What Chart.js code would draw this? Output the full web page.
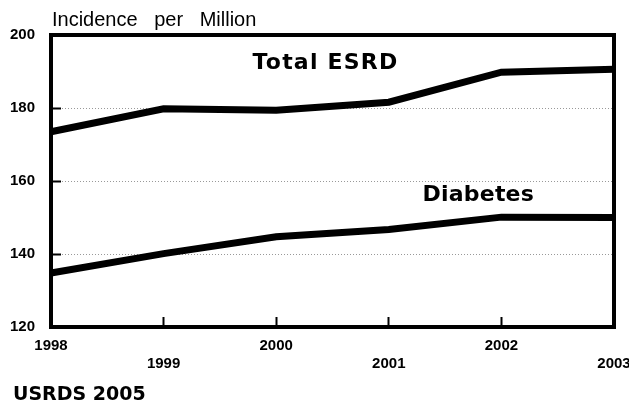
<!DOCTYPE html>
<html>
<head>
<meta charset="utf-8">
<script src="https://cdn.jsdelivr.net/npm/chart.js@4/dist/chart.umd.min.js"></script>
<style>
  html, body { margin: 0; padding: 0; background: #fff; }
  #wrap { width: 629px; height: 404px; }
</style>
</head>
<body>
<div id="wrap"><canvas id="esrd-chart"></canvas></div>
<script>
// incidence chart

const years = ['1998', '1999', '2000', '2001', '2002', '2003'];
const totalEsrd = [173.5, 179.8, 179.4, 181.6, 189.8, 190.6];
const diabetes = [134.8, 140.1, 144.7, 146.7, 150.1, 150.0];
const yTicks = [120, 140, 160, 180, 200];

const tickFont = { family: "'Liberation Sans', Arial, sans-serif", size: 15, weight: 'bold' };

// titles, series names and the box round the plot
const textMarks = {
    id: 'textMarks',
    afterDraw(chart) {
        const { ctx, chartArea: a, scales: { x, y } } = chart;
        ctx.save();
        ctx.strokeStyle = '#000';
        ctx.lineWidth = 4;
        ctx.strokeRect(a.left, a.top, a.right - a.left, a.bottom - a.top);

        ctx.fillStyle = '#000';
        ctx.textBaseline = 'alphabetic';
        ctx.textAlign = 'left';

        ctx.font = "20px 'Liberation Sans', Arial, sans-serif";
        if ('wordSpacing' in ctx) ctx.wordSpacing = '11px';
        ctx.fillText('Incidence per Million', 52, 26);
        if ('wordSpacing' in ctx) ctx.wordSpacing = '0px';

        ctx.font = "bold 22px 'DejaVu Sans', sans-serif";
        if ('letterSpacing' in ctx) ctx.letterSpacing = '1.2px';
        ctx.fillText('Total ESRD', x.getPixelForValue(1.79), y.getPixelForValue(190.8));
        if ('letterSpacing' in ctx) ctx.letterSpacing = '0.2px';
        ctx.fillText('Diabetes', x.getPixelForValue(3.3), y.getPixelForValue(154.4));
        if ('letterSpacing' in ctx) ctx.letterSpacing = '0px';

        ctx.font = "bold 19px 'DejaVu Sans', sans-serif";
        ctx.fillText('USRDS 2005', 13, 400);
        ctx.restore();
    }
};

const data = {
    labels: years,
    datasets: [{
        label: 'Total ESRD',
        data: totalEsrd,
        borderColor: '#000',
        borderWidth: 7,
        pointRadius: 0,
        tension: 0
    }, {
        label: 'Diabetes',
        data: diabetes,
        borderColor: '#000',
        borderWidth: 7,
        pointRadius: 0,
        tension: 0
    }]
};

const config = {
    type: 'line',
    data,
    plugins: [textMarks],
    options: {
        responsive: true,
        maintainAspectRatio: false,
        animation: false,
        layout: { padding: { top: 34, right: 15, left: 0, bottom: 0 } },
        plugins: {
            legend: { display: false },
            tooltip: { enabled: false }
        },
        scales: {
            x: {
                offset: false,
                afterFit(scale) {
                    scale.height = 77;
                    scale.paddingLeft = 0;
                    scale.paddingRight = 0;
                },
                grid: {
                    drawOnChartArea: false,
                    tickLength: -10,
                    tickColor: '#000',
                    tickWidth: 2
                },
                border: { color: '#000', width: 4 },
                ticks: {
                    color: '#000',
                    font: tickFont,
                    padding: 20,
                    maxRotation: 0,
                    autoSkip: false,
                    // staggered year labels
                    callback(val, i) { return i % 2 ? ['', years[i]] : years[i]; }
                }
            },
            y: {
                min: 120,
                max: 200,
                afterFit(scale) { scale.width = 51; },
                afterBuildTicks(scale) { scale.ticks = yTicks.map(v => ({ value: v })); },
                grid: {
                    color: '#999',
                    lineWidth: 1,
                    tickLength: -10,
                    tickColor: '#000',
                    tickWidth: 2
                },
                border: { color: '#000', width: 4, dash: [1, 2] },
                ticks: {
                    color: '#000',
                    font: tickFont,
                    padding: 26
                }
            }
        }
    }
};

var esrdChart = new Chart(
    document.getElementById('esrd-chart'),
    config
);
</script>
</body>
</html>
